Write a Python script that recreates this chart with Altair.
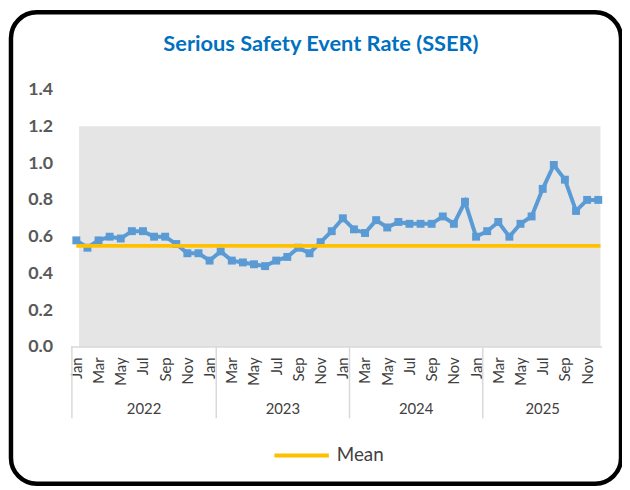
import altair as alt
import pandas as pd

# ---- data ----
years = ["2022", "2023", "2024", "2025"]
month_names = ["Jan", "Feb", "Mar", "Apr", "May", "Jun",
               "Jul", "Aug", "Sep", "Oct", "Nov", "Dec"]
rate_2022 = [0.58, 0.54, 0.58, 0.60, 0.59, 0.63, 0.63, 0.60, 0.60, 0.56, 0.51, 0.51]
rate_2023 = [0.47, 0.52, 0.47, 0.46, 0.45, 0.44, 0.47, 0.49, 0.54, 0.51, 0.57, 0.63]
rate_2024 = [0.70, 0.64, 0.62, 0.69, 0.65, 0.68, 0.67, 0.67, 0.67, 0.71, 0.67, 0.79]
rate_2025 = [0.60, 0.63, 0.68, 0.60, 0.67, 0.71, 0.86, 0.99, 0.91, 0.74, 0.80, 0.80]
mean_value = 0.55
y_ticks = [0.0, 0.2, 0.4, 0.6, 0.8, 1.0, 1.2, 1.4]
title_text = "Serious Safety Event Rate (SSER)"

rows = []
for yi, (yr, vals) in enumerate(zip(years, [rate_2022, rate_2023, rate_2024, rate_2025])):
    for mi, v in enumerate(vals):
        rows.append({"idx": yi * 12 + mi, "month": month_names[mi], "year": yr, "rate": v})
df = pd.DataFrame(rows)

# group separators (category axis) and year label positions
sep_pos = [-0.4, 12.6, 24.6, 36.6]
sep_df = pd.DataFrame({"pos": sep_pos})
year_end = sep_pos[1:] + [47.4]
year_df = pd.DataFrame({"year": years,
                        "pos": [(a + b) / 2 for a, b in zip(sep_pos, year_end)]})
mean_df = pd.DataFrame({"series": ["Mean"], "mean": [mean_value]})

W, H = 527, 260
FONT = "Lato"
x_scale = alt.Scale(domain=[0, 47], nice=False, zero=False)
y_scale = alt.Scale(domain=[0, 1.4], nice=False)

month_arr = "[" + ",".join(f"'{m}'" for m in month_names) + "]"
x_axis = alt.Axis(values=list(range(0, 48, 2)),
                  labelExpr=f"{month_arr}[datum.value % 12]",
                  labelAngle=-90, labelAlign="right", labelBaseline="middle",
                  labelPadding=10, labelFont=FONT, labelFontSize=15,
                  labelColor="#404040", ticks=False, domain=False, grid=False,
                  title=None, labelOverlap=False, labelFlush=False, labelBound=False)
y_axis = alt.Axis(values=y_ticks, format=".1f", labelFont=FONT, labelFontSize=18,
                  labelFontWeight="bold", labelColor="#595959", labelPadding=24,
                  ticks=False, domain=False, grid=False, title=None,
                  labelOverlap=False, labelFlush=False, labelBound=False)

one = pd.DataFrame({"k": [0]})

border = alt.Chart(one).mark_rect(
    filled=False, stroke="black", strokeWidth=4.5, cornerRadius=26
).encode(x=alt.value(-66), x2=alt.value(550), y=alt.value(-78), y2=alt.value(398))

title = alt.Chart(one).mark_text(
    text=title_text, font=FONT, fontSize=22, fontWeight="bold", color="#0070C0",
    align="center", baseline="middle"
).encode(x=alt.value(247), y=alt.value(-46))

bg = alt.Chart(one).mark_rect(color="#e5e5e5").encode(
    x=alt.X(datum=0.25, scale=x_scale, axis=x_axis),
    x2=alt.X2(datum=47.2),
    y=alt.Y(datum=0, scale=y_scale, axis=y_axis),
    y2=alt.Y2(datum=1.2),
)

axis_line = alt.Chart(one).mark_rule(
    color="#d9d9d9", strokeWidth=1.5
).encode(x=alt.X(datum=-0.45, scale=x_scale, axis=x_axis), x2=alt.X2(datum=47.35),
         y=alt.Y(datum=0, scale=y_scale, axis=y_axis))

seps = alt.Chart(sep_df).mark_rule(color="#d9d9d9", strokeWidth=1.5).encode(
    x=alt.X("pos:Q", scale=x_scale, axis=x_axis), y=alt.value(H - 1), y2=alt.value(H + 72))

year_text = alt.Chart(year_df).mark_text(
    font=FONT, fontSize=15, color="#404040", baseline="middle"
).encode(x=alt.X("pos:Q", scale=x_scale, axis=x_axis), y=alt.value(H + 63), text="year:N")

line = alt.Chart(df).mark_line(
    color="#5B9BD5", strokeWidth=4,
    point=alt.OverlayMarkDef(shape="square", size=64, filled=True, color="#5B9BD5", opacity=1)
).encode(
    x=alt.X("idx:Q", scale=x_scale, axis=x_axis),
    y=alt.Y("rate:Q", scale=y_scale, axis=y_axis),
)

mean_rule = alt.Chart(mean_df).mark_rule(strokeWidth=4).encode(
    y=alt.Y("mean:Q", scale=y_scale, axis=y_axis),
    x=alt.X(datum=0, scale=x_scale, axis=x_axis), x2=alt.X2(datum=47.2),
    color=alt.Color("series:N", scale=alt.Scale(range=["#FFC000"]),
                    legend=alt.Legend(orient="none", legendX=198, legendY=340,
                                      title=None, symbolType="stroke",
                                      symbolSize=3025, symbolStrokeWidth=4,
                                      labelFont=FONT, labelFontSize=19,
                                      labelColor="#404040", labelOffset=6,
                                      padding=0)),
)

chart = alt.layer(border, title, bg, axis_line, seps, line, mean_rule, year_text).properties(
    width=W, height=H,
    autosize=alt.AutoSizeParams(type="none"),
    padding={"left": 69, "top": 80, "right": 24, "bottom": 141},
    background="white",
).configure_view(stroke=None).configure_axis(labelOverlap=False)

chart.save("out.html", embed_options={"renderer": "svg", "actions": False})
